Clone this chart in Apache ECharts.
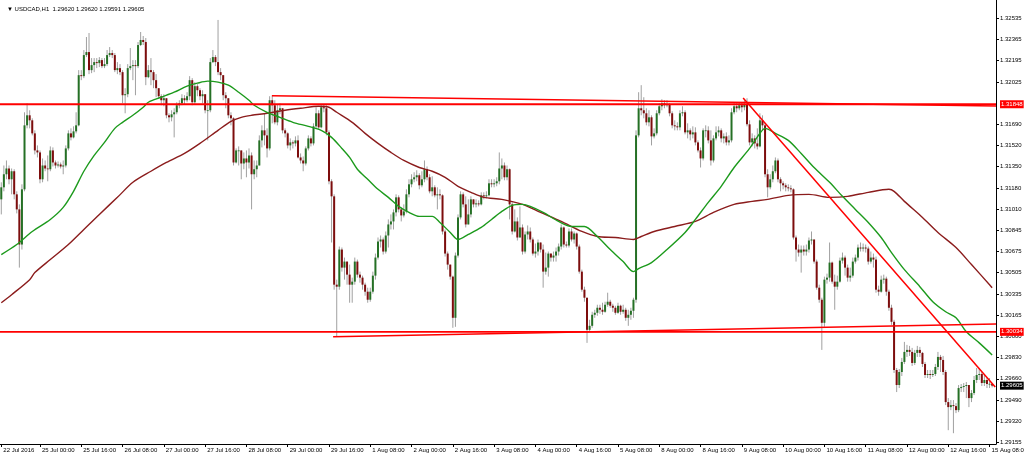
<!DOCTYPE html>
<html><head><meta charset="utf-8">
<script src="https://cdn.jsdelivr.net/npm/echarts@6/dist/echarts.min.js"></script>
<style>html,body{margin:0;padding:0;background:#fff}#c{width:1024px;height:456px}</style>
</head><body><div id="c"></div>
<script>
const titleText = '\u25BC USDCAD,H1  1.29620 1.29620 1.29591 1.29605';
const firstOpen = 1.31090;
const closes = [
1.31186,1.31290,1.31336,1.31250,1.31314,1.31130,1.31010,1.30730,1.31170,1.31680,
1.31760,1.31720,1.31616,1.31480,1.31464,1.31250,1.31360,1.31336,1.31330,1.31480,
1.31384,1.31360,1.31368,1.31352,1.31360,1.31496,1.31616,1.31584,1.31632,1.31680,
1.32080,1.32072,1.32240,1.32264,1.32120,1.32160,1.32184,1.32176,1.32200,1.32152,
1.32168,1.32240,1.32256,1.32240,1.32120,1.32136,1.32104,1.31920,1.31928,1.32136,
1.32152,1.32160,1.32152,1.32320,1.32360,1.32344,1.32064,1.32120,1.32104,1.32040,
1.31976,1.31912,1.31880,1.31896,1.31760,1.31744,1.31768,1.31784,1.31840,1.31856,
1.31896,1.31880,1.31912,1.32040,1.31864,1.31992,1.31960,1.31912,1.31928,1.31800,
1.31800,1.32184,1.32224,1.32184,1.32104,1.32080,1.31920,1.31896,1.31760,1.31736,
1.31384,1.31480,1.31480,1.31376,1.31416,1.31384,1.31440,1.31290,1.31330,1.31360,
1.31560,1.31640,1.31600,1.31496,1.31880,1.31840,1.31704,1.31800,1.31816,1.31640,
1.31616,1.31520,1.31544,1.31536,1.31560,1.31424,1.31400,1.31376,1.31496,1.31576,
1.31536,1.31672,1.31776,1.31664,1.31824,1.31816,1.31624,1.31234,1.31114,1.30410,
1.30394,1.30690,1.30546,1.30594,1.30490,1.30410,1.30434,1.30594,1.30490,1.30466,
1.30410,1.30354,1.30290,1.30354,1.30482,1.30626,1.30754,1.30770,1.30674,1.30802,
1.30890,1.30914,1.30986,1.31106,1.31010,1.30962,1.30994,1.31130,1.31210,1.31250,
1.31266,1.31282,1.31202,1.31250,1.31330,1.31266,1.31154,1.31186,1.31122,1.31130,
1.31122,1.30834,1.30658,1.30570,1.30474,1.30146,1.30642,1.30946,1.31130,1.31050,
1.30890,1.30970,1.31090,1.31050,1.31058,1.31050,1.31122,1.31114,1.31122,1.31218,
1.31210,1.31218,1.31234,1.31336,1.31360,1.31266,1.31330,1.31050,1.30834,1.30914,
1.30786,1.30866,1.30674,1.30810,1.30834,1.30770,1.30658,1.30674,1.30746,1.30690,
1.30514,1.30546,1.30658,1.30626,1.30642,1.30674,1.30714,1.30866,1.30730,1.30722,
1.30834,1.30770,1.30818,1.30714,1.30514,1.30370,1.30306,1.30050,1.30082,1.30170,
1.30186,1.30226,1.30210,1.30194,1.30250,1.30274,1.30242,1.30226,1.30186,1.30242,
1.30194,1.30210,1.30146,1.30170,1.30202,1.30290,1.31600,1.31816,1.31800,1.31776,
1.31704,1.31744,1.31592,1.31616,1.31776,1.31832,1.31856,1.31840,1.31848,1.31776,
1.31680,1.31672,1.31664,1.31776,1.31784,1.31624,1.31640,1.31608,1.31624,1.31544,
1.31480,1.31416,1.31640,1.31640,1.31560,1.31400,1.31576,1.31624,1.31640,1.31576,
1.31592,1.31544,1.31560,1.31784,1.31832,1.31816,1.31840,1.31824,1.31848,1.31688,
1.31544,1.31576,1.31536,1.31512,1.31720,1.31680,1.31290,1.31186,1.31250,1.31314,
1.31400,1.31250,1.31218,1.31202,1.31186,1.31178,1.31170,1.30786,1.30690,1.30666,
1.30690,1.30674,1.30690,1.30762,1.30770,1.30594,1.30386,1.30290,1.30106,1.30450,
1.30466,1.30586,1.30434,1.30394,1.30434,1.30602,1.30626,1.30546,1.30466,1.30482,
1.30594,1.30626,1.30706,1.30698,1.30706,1.30698,1.30594,1.30626,1.30610,1.30370,
1.30354,1.30450,1.30458,1.30354,1.30226,1.30114,1.29730,1.29610,1.29714,1.29794,
1.29874,1.29890,1.29874,1.29786,1.29866,1.29890,1.29866,1.29778,1.29690,1.29698,
1.29690,1.29698,1.29754,1.29834,1.29810,1.29714,1.29474,1.29434,1.29450,1.29442,
1.29410,1.29586,1.29594,1.29602,1.29610,1.29506,1.29546,1.29650,1.29690,1.29698,
1.29626,1.29650,1.29618,1.29620,1.29605];
const highs = [
1.31226,1.31360,1.31400,1.31360,1.31336,1.31330,1.31154,1.31050,1.31210,1.31784,
1.31856,1.31800,1.31736,1.31640,1.31520,1.31480,1.31416,1.31400,1.31440,1.31512,
1.31504,1.31400,1.31392,1.31384,1.31400,1.31520,1.31640,1.31656,1.31672,1.31784,
1.32120,1.32120,1.32280,1.32384,1.32416,1.32216,1.32216,1.32216,1.32224,1.32216,
1.32216,1.32280,1.32304,1.32280,1.32256,1.32184,1.32168,1.32120,1.31976,1.32168,
1.32296,1.32200,1.32200,1.32344,1.32424,1.32392,1.32376,1.32160,1.32216,1.32120,
1.32088,1.31976,1.31928,1.31928,1.31896,1.31776,1.31800,1.31816,1.31864,1.31880,
1.31928,1.31920,1.31944,1.32072,1.32056,1.32024,1.32008,1.31976,1.31960,1.31928,
1.31880,1.32216,1.32280,1.32240,1.32520,1.32136,1.32080,1.31944,1.31856,1.31784,
1.31744,1.31496,1.31512,1.31480,1.31464,1.31480,1.31496,1.31464,1.31400,1.31400,
1.31600,1.31680,1.31776,1.31656,1.31912,1.31920,1.31880,1.31848,1.31856,1.31816,
1.31656,1.31624,1.31576,1.31560,1.31592,1.31600,1.31456,1.31432,1.31512,1.31600,
1.31592,1.31696,1.31824,1.31800,1.31840,1.31848,1.31840,1.31640,1.31250,1.31130,
1.30450,1.30714,1.30706,1.30626,1.30570,1.30570,1.30466,1.30626,1.30610,1.30514,
1.30482,1.30426,1.30386,1.30386,1.30514,1.30658,1.30786,1.30802,1.30786,1.30834,
1.30930,1.30970,1.31010,1.31130,1.31122,1.31026,1.31050,1.31170,1.31250,1.31290,
1.31306,1.31322,1.31298,1.31314,1.31400,1.31352,1.31290,1.31274,1.31202,1.31186,
1.31170,1.31130,1.30850,1.30674,1.30570,1.30482,1.30666,1.30970,1.31154,1.31146,
1.31114,1.31090,1.31114,1.31090,1.31090,1.31082,1.31146,1.31146,1.31154,1.31250,
1.31250,1.31250,1.31266,1.31464,1.31416,1.31384,1.31360,1.31336,1.31066,1.31010,
1.30946,1.31034,1.30890,1.30834,1.30882,1.30866,1.30786,1.30738,1.30770,1.30746,
1.30730,1.30666,1.30674,1.30658,1.30674,1.30706,1.30738,1.30890,1.30874,1.30754,
1.30858,1.30858,1.30834,1.30826,1.30730,1.30530,1.30394,1.30290,1.30130,1.30194,
1.30210,1.30250,1.30250,1.30266,1.30274,1.30346,1.30290,1.30258,1.30242,1.30266,
1.30250,1.30250,1.30226,1.30210,1.30226,1.30306,1.31640,1.31944,1.32000,1.31904,
1.31816,1.31800,1.31760,1.31656,1.31800,1.31856,1.31888,1.31880,1.31880,1.31856,
1.31792,1.31720,1.31704,1.31800,1.31832,1.31800,1.31696,1.31656,1.31672,1.31664,
1.31560,1.31504,1.31656,1.31680,1.31672,1.31640,1.31600,1.31672,1.31672,1.31656,
1.31616,1.31624,1.31600,1.31816,1.31864,1.31856,1.31864,1.31864,1.31880,1.31896,
1.31720,1.31616,1.31600,1.31656,1.31776,1.31760,1.31696,1.31330,1.31290,1.31360,
1.31424,1.31416,1.31266,1.31234,1.31218,1.31210,1.31202,1.31178,1.30802,1.30730,
1.30722,1.30722,1.30730,1.30786,1.30834,1.30770,1.30610,1.30410,1.30306,1.30474,
1.30498,1.30746,1.30594,1.30490,1.30482,1.30626,1.30666,1.30642,1.30570,1.30546,
1.30626,1.30650,1.30730,1.30746,1.30738,1.30730,1.30714,1.30674,1.30658,1.30634,
1.30402,1.30482,1.30490,1.30474,1.30370,1.30250,1.30130,1.29746,1.29738,1.29826,
1.29954,1.29930,1.29922,1.29906,1.29890,1.29922,1.29914,1.29874,1.29794,1.29730,
1.29730,1.29730,1.29778,1.29874,1.29850,1.29842,1.29730,1.29506,1.29490,1.29490,
1.29466,1.29610,1.29618,1.29626,1.29634,1.29610,1.29570,1.29682,1.29746,1.29746,
1.29714,1.29690,1.29666,1.29666,1.29620];
const lows = [
1.30970,1.31154,1.31250,1.31210,1.31130,1.31090,1.30978,1.30546,1.30690,1.31154,
1.31656,1.31656,1.31600,1.31448,1.31424,1.31218,1.31226,1.31314,1.31234,1.31314,
1.31352,1.31336,1.31344,1.31336,1.31290,1.31344,1.31480,1.31560,1.31576,1.31616,
1.31672,1.32040,1.32056,1.32224,1.32088,1.32096,1.32104,1.32136,1.32144,1.32136,
1.32136,1.32152,1.32224,1.32216,1.32104,1.32088,1.32080,1.31856,1.31776,1.31904,
1.32120,1.32040,1.31920,1.32136,1.32312,1.32320,1.32000,1.32056,1.32000,1.31976,
1.31904,1.31896,1.31840,1.31832,1.31736,1.31704,1.31712,1.31584,1.31768,1.31816,
1.31840,1.31848,1.31864,1.31880,1.31840,1.31848,1.31912,1.31880,1.31856,1.31776,
1.31560,1.31784,1.32176,1.32152,1.32080,1.32040,1.31880,1.31816,1.31736,1.31680,
1.31360,1.31376,1.31360,1.31250,1.31330,1.31266,1.31336,1.31010,1.31250,1.31266,
1.31384,1.31504,1.31520,1.31424,1.31480,1.31696,1.31688,1.31680,1.31768,1.31616,
1.31584,1.31496,1.31480,1.31496,1.31512,1.31416,1.31376,1.31314,1.31360,1.31480,
1.31512,1.31520,1.31656,1.31648,1.31656,1.31784,1.31600,1.31210,1.30746,1.30370,
1.29994,1.30370,1.30514,1.30450,1.30410,1.30266,1.30266,1.30410,1.30466,1.30426,
1.30370,1.30322,1.30266,1.30274,1.30338,1.30450,1.30610,1.30706,1.30650,1.30658,
1.30706,1.30850,1.30850,1.30954,1.30986,1.30914,1.30946,1.30978,1.31106,1.31186,
1.31226,1.31234,1.31170,1.31186,1.31226,1.31242,1.31138,1.31114,1.31106,1.31010,
1.31090,1.30810,1.30634,1.30530,1.30450,1.30066,1.30074,1.30626,1.30930,1.31026,
1.30866,1.30890,1.30946,1.31026,1.31026,1.31034,1.31042,1.31090,1.31098,1.31114,
1.31186,1.31186,1.31194,1.31210,1.31250,1.31242,1.31242,1.30930,1.30810,1.30826,
1.30762,1.30786,1.30650,1.30658,1.30770,1.30746,1.30642,1.30626,1.30642,1.30666,
1.30386,1.30490,1.30474,1.30594,1.30594,1.30594,1.30642,1.30690,1.30706,1.30706,
1.30706,1.30754,1.30738,1.30690,1.30498,1.30354,1.30274,1.29946,1.30034,1.30066,
1.30146,1.30162,1.30178,1.30170,1.30186,1.30234,1.30226,1.30194,1.30170,1.30178,
1.30170,1.30178,1.30122,1.30082,1.30130,1.30146,1.30266,1.31584,1.31760,1.31736,
1.31680,1.31672,1.31520,1.31576,1.31600,1.31760,1.31800,1.31816,1.31824,1.31752,
1.31656,1.31640,1.31640,1.31640,1.31752,1.31608,1.31576,1.31560,1.31576,1.31520,
1.31464,1.31344,1.31400,1.31584,1.31536,1.31360,1.31384,1.31560,1.31592,1.31544,
1.31536,1.31520,1.31520,1.31544,1.31768,1.31784,1.31800,1.31784,1.31800,1.31672,
1.31520,1.31512,1.31496,1.31488,1.31504,1.31640,1.31266,1.31106,1.31170,1.31226,
1.31298,1.31226,1.31154,1.31170,1.31154,1.31154,1.31146,1.30770,1.30594,1.30634,
1.30506,1.30642,1.30642,1.30666,1.30730,1.30578,1.30370,1.30266,1.29890,1.30074,
1.30418,1.30434,1.30418,1.30210,1.30370,1.30426,1.30578,1.30482,1.30434,1.30434,
1.30466,1.30578,1.30602,1.30674,1.30674,1.30666,1.30570,1.30578,1.30546,1.30346,
1.30322,1.30346,1.30418,1.30322,1.30202,1.30090,1.29706,1.29554,1.29586,1.29682,
1.29778,1.29834,1.29842,1.29762,1.29770,1.29834,1.29834,1.29754,1.29666,1.29666,
1.29658,1.29674,1.29682,1.29730,1.29714,1.29690,1.29450,1.29250,1.29410,1.29226,
1.29386,1.29394,1.29554,1.29554,1.29506,1.29434,1.29474,1.29530,1.29626,1.29650,
1.29602,1.29602,1.29586,1.29586,1.29591];

// moving averages: [bar index, price]
const maFast = [[0,1.30650],[6,1.30730],[12,1.30834],[19,1.30930],[24,1.31026],[28,1.31154],[32,1.31314],[36,1.31440],[40,1.31544],[44,1.31656],[47,1.31704],[51,1.31760],[55,1.31824],[57,1.31864],[62,1.31904],[67,1.31944],[72,1.31992],[76,1.32016],[80,1.32032],[84,1.32024],[88,1.32000],[92,1.31944],[96,1.31880],[98,1.31840],[103,1.31784],[108,1.31744],[113,1.31704],[119,1.31672],[124,1.31640],[128,1.31584],[132,1.31496],[135,1.31424],[138,1.31330],[142,1.31250],[146,1.31170],[150,1.31106],[154,1.31034],[158,1.30986],[162,1.30954],[167,1.30954],[170,1.30906],[174,1.30826],[177,1.30770],[181,1.30810],[186,1.30866],[190,1.30930],[194,1.30994],[198,1.31042],[202,1.31050],[205,1.31034],[210,1.30986],[216,1.30914],[221,1.30874],[226,1.30874],[231,1.30794],[236,1.30690],[241,1.30594],[245,1.30514],[247,1.30538],[252,1.30586],[258,1.30690],[265,1.30826],[269,1.30930],[274,1.31066],[279,1.31194],[284,1.31344],[290,1.31496],[294,1.31616],[296,1.31656],[300,1.31616],[305,1.31560],[310,1.31456],[315,1.31344],[321,1.31226],[326,1.31114],[331,1.31010],[336,1.30906],[341,1.30786],[345,1.30666],[350,1.30530],[356,1.30394],[361,1.30274],[366,1.30194],[370,1.30146],[374,1.30034],[379,1.29946],[384,1.29850]];
const maSlow = [[0,1.30266],[4,1.30330],[11,1.30450],[13,1.30506],[19,1.30610],[26,1.30730],[32,1.30850],[38,1.30970],[45,1.31106],[51,1.31226],[58,1.31314],[64,1.31384],[71,1.31456],[77,1.31536],[84,1.31640],[89,1.31712],[93,1.31744],[97,1.31760],[103,1.31776],[110,1.31800],[116,1.31816],[123,1.31832],[127,1.31824],[130,1.31784],[136,1.31704],[141,1.31616],[146,1.31536],[151,1.31464],[156,1.31400],[162,1.31344],[167,1.31314],[172,1.31266],[177,1.31194],[182,1.31146],[187,1.31106],[194,1.31090],[202,1.31050],[209,1.30986],[217,1.30914],[225,1.30834],[231,1.30794],[238,1.30786],[245,1.30770],[248,1.30794],[253,1.30834],[261,1.30874],[269,1.30914],[276,1.30986],[284,1.31050],[291,1.31074],[297,1.31090],[305,1.31122],[313,1.31130],[321,1.31106],[328,1.31114],[336,1.31146],[344,1.31170],[346,1.31154],[350,1.31074],[357,1.30946],[363,1.30826],[370,1.30706],[376,1.30570],[383,1.30410],[384,1.30386]];

const levelPrices = [1.31848, 1.30034];
const trendResist = [[104.9,1.31916],[385.5,1.31834]];
const trendDown = [[287.5,1.31898],[385.2,1.29595]];
const trendSupport = [[128.6,1.29995],[385.5,1.30097]];

const yTickValues = [1.32535,1.32365,1.32195,1.32025,1.31690,1.31520,1.31350,1.31180,1.31010,1.30845,1.30675,1.30505,1.30335,1.30165,1.30000,1.29830,1.29660,1.29490,1.29320,1.29155];
const redPrices = [1.31848, 1.30034];
const lastPrice = 1.29605;

const xTickLabels = ['22 Jul 2016','25 Jul 00:00','25 Jul 16:00','26 Jul 08:00','27 Jul 00:00','27 Jul 16:00','28 Jul 08:00','29 Jul 00:00','29 Jul 16:00','1 Aug 08:00','2 Aug 00:00','2 Aug 16:00','3 Aug 08:00','4 Aug 00:00','4 Aug 16:00','5 Aug 08:00','8 Aug 00:00','8 Aug 16:00','9 Aug 08:00','10 Aug 00:00','10 Aug 16:00','11 Aug 08:00','12 Aug 00:00','12 Aug 16:00','15 Aug 08:00'];
const xTickBars = [0,15,31,47,63,79,95,111,127,143,159,175,191,207,223,239,255,271,287,303,319,335,351,367,383];

const N = closes.length + 1;
const cats = []; for (let i = 0; i < N; i++) cats.push(String(i));
const labelMap = {}; xTickBars.forEach((b, k) => labelMap[b] = xTickLabels[k]);
const candles = closes.map((c, i) => {
  const o = i ? closes[i - 1] : firstOpen;
  return [i, o, c, Math.min(lows[i], o, c), Math.max(highs[i], o, c)];
});
const allYLabels = yTickValues.concat(redPrices, [lastPrice]);
const FONT = 'Liberation Sans, Arial, sans-serif';
const near = (a, b) => Math.abs(a - b) < 1e-7;

const chart = echarts.init(document.getElementById('c'), null, {renderer: 'canvas'});
const redLine = (data, w) => ({type: 'line', xAxisIndex: 1, data, showSymbol: false, silent: true, z: 5,
  lineStyle: {color: '#ff0000', width: w || 1.5}});
chart.setOption({
  animation: false,
  backgroundColor: '#ffffff',
  title: {text: titleText, left: 2, top: 1, textStyle: {fontSize: 6, fontWeight: 'normal', fontFamily: FONT, color: '#000'}},
  grid: {left: 0, right: 28, top: 0, bottom: 12, outerBoundsMode: 'none'},
  xAxis: [{
    type: 'category', data: cats, boundaryGap: true,
    axisLine: {show: true, onZero: false, lineStyle: {color: '#000', width: 1}},
    axisTick: {show: true, alignWithLabel: true, length: 3, interval: (i) => labelMap[i] !== undefined, lineStyle: {color: '#000'}},
    axisLabel: {interval: (i) => labelMap[i] !== undefined, formatter: (v) => labelMap[+v] || '', align: 'left',
      fontSize: 6, fontFamily: FONT, color: '#000', margin: 3, padding: [0, 0, 0, 2]},
    splitLine: {show: false}
  }, {
    type: 'value', min: -0.5, max: N - 0.5, show: false
  }],
  yAxis: {
    type: 'value', position: 'right', min: 1.29140, max: 1.32679,
    axisLine: {show: true, onZero: false, lineStyle: {color: '#000', width: 1}},
    axisTick: {show: true, length: 3, customValues: yTickValues, lineStyle: {color: '#000'}},
    axisLabel: {
      customValues: allYLabels, fontSize: 6, fontFamily: FONT, color: '#000', margin: 4,
      formatter: (v) => {
        const s = v.toFixed(5);
        if (redPrices.some(p => near(p, v))) return '{r|' + s + '}';
        if (near(lastPrice, v)) return '{b|' + s + '}';
        return s;
      },
      rich: {
        r: {backgroundColor: '#ff0000', color: '#ffffff', fontSize: 6, fontFamily: FONT, padding: [1, 1, 1, 1]},
        b: {backgroundColor: '#000000', color: '#ffffff', fontSize: 6, fontFamily: FONT, padding: [1, 1, 1, 1]}
      }
    },
    splitLine: {show: false}
  },
  series: [
    {
      type: 'custom', xAxisIndex: 0, data: candles, encode: {x: 0, y: [1, 2, 3, 4]}, clip: true, z: 2,
      renderItem: (params, api) => {
        const i = api.value(0), o = api.value(1), c = api.value(2), l = api.value(3), h = api.value(4);
        const pH = api.coord([i, h]), pL = api.coord([i, l]);
        const pO = api.coord([i, o]), pC = api.coord([i, c]);
        const x = pH[0];
        const top = Math.min(pO[1], pC[1]), bot = Math.max(pO[1], pC[1]);
        const up = c >= o;
        return {type: 'group', children: [
          {type: 'line', shape: {x1: x, y1: pH[1], x2: x, y2: pL[1]}, style: {stroke: '#a0a0a0', lineWidth: 1}},
          {type: 'rect', shape: {x: x - 1, y: top, width: 2, height: Math.max(bot - top, 0.8)},
            style: {fill: up ? '#257025' : '#7d0d0d'}}
        ]};
      }
    },
    {type: 'line', xAxisIndex: 1, data: maSlow, showSymbol: false, silent: true, z: 4, smooth: 0.3,
      lineStyle: {color: '#8b1c1c', width: 1.4}},
    {type: 'line', xAxisIndex: 1, data: maFast, showSymbol: false, silent: true, z: 4, smooth: 0.3,
      lineStyle: {color: '#1c9a1c', width: 1.4}},
    redLine([[-0.5, levelPrices[0]], [N - 0.5, levelPrices[0]]], 1.8),
    redLine([[-0.5, levelPrices[1]], [N - 0.5, levelPrices[1]]], 1.8),
    redLine(trendResist),
    redLine(trendDown),
    redLine(trendSupport)
  ]
});
</script></body></html>
